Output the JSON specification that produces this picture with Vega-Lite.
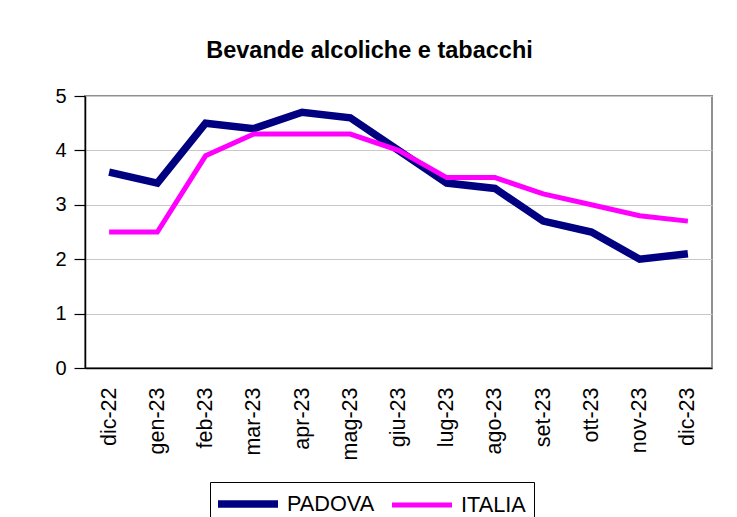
{
  "$schema": "https://vega.github.io/schema/vega-lite/v6.json",
  "width": 627,
  "height": 272,
  "autosize": {"type": "none"},
  "padding": {"left": 85, "top": 96, "right": 25, "bottom": 149},
  "background": "white",
  "title": {
    "text": "Bevande alcoliche e tabacchi",
    "font": "Liberation Sans",
    "fontSize": 23.5,
    "fontWeight": "bold",
    "color": "black",
    "anchor": "middle",
    "dx": -29,
    "offset": 24
  },
  "data": {
    "values": [
      {"mese": "dic-22", "serie": "PADOVA", "valore": 3.6},
      {"mese": "gen-23", "serie": "PADOVA", "valore": 3.4},
      {"mese": "feb-23", "serie": "PADOVA", "valore": 4.5},
      {"mese": "mar-23", "serie": "PADOVA", "valore": 4.4},
      {"mese": "apr-23", "serie": "PADOVA", "valore": 4.7},
      {"mese": "mag-23", "serie": "PADOVA", "valore": 4.6},
      {"mese": "giu-23", "serie": "PADOVA", "valore": 4.0},
      {"mese": "lug-23", "serie": "PADOVA", "valore": 3.4},
      {"mese": "ago-23", "serie": "PADOVA", "valore": 3.3},
      {"mese": "set-23", "serie": "PADOVA", "valore": 2.7},
      {"mese": "ott-23", "serie": "PADOVA", "valore": 2.5},
      {"mese": "nov-23", "serie": "PADOVA", "valore": 2.0},
      {"mese": "dic-23", "serie": "PADOVA", "valore": 2.1},
      {"mese": "dic-22", "serie": "ITALIA", "valore": 2.5},
      {"mese": "gen-23", "serie": "ITALIA", "valore": 2.5},
      {"mese": "feb-23", "serie": "ITALIA", "valore": 3.9},
      {"mese": "mar-23", "serie": "ITALIA", "valore": 4.3},
      {"mese": "apr-23", "serie": "ITALIA", "valore": 4.3},
      {"mese": "mag-23", "serie": "ITALIA", "valore": 4.3},
      {"mese": "giu-23", "serie": "ITALIA", "valore": 4.0},
      {"mese": "lug-23", "serie": "ITALIA", "valore": 3.5},
      {"mese": "ago-23", "serie": "ITALIA", "valore": 3.5},
      {"mese": "set-23", "serie": "ITALIA", "valore": 3.2},
      {"mese": "ott-23", "serie": "ITALIA", "valore": 3.0},
      {"mese": "nov-23", "serie": "ITALIA", "valore": 2.8},
      {"mese": "dic-23", "serie": "ITALIA", "valore": 2.7}
    ]
  },
  "mark": {"type": "line", "strokeJoin": "miter", "strokeCap": "butt"},
  "encoding": {
    "x": {
      "field": "mese",
      "type": "ordinal",
      "sort": null,
      "scale": {"type": "point", "padding": 0.5},
      "axis": {
        "title": null,
        "labelAngle": -90,
        "labelAlign": "right",
        "labelBaseline": "middle",
        "labelFont": "Liberation Sans",
        "labelFontSize": 21.5,
        "labelColor": "black",
        "labelPadding": 19,
        "ticks": false,
        "domainColor": "black",
        "domainWidth": 1.5,
        "grid": false
      }
    },
    "y": {
      "field": "valore",
      "type": "quantitative",
      "scale": {"domain": [0, 5], "nice": false},
      "axis": {
        "title": null,
        "values": [0, 1, 2, 3, 4, 5],
        "labelFont": "Liberation Sans",
        "labelFontSize": 20,
        "labelColor": "black",
        "labelPadding": 8,
        "tickSize": 11,
        "tickColor": "black",
        "tickWidth": 1.2,
        "domainColor": "black",
        "domainWidth": 1.5,
        "grid": true,
        "gridColor": "#c8c8c8",
        "gridWidth": 1.2
      }
    },
    "color": {
      "field": "serie",
      "type": "nominal",
      "scale": {"domain": ["PADOVA", "ITALIA"], "range": ["#000080", "#FF00FF"]},
      "legend": {
        "title": null,
        "orient": "none",
        "legendX": 125,
        "legendY": 386,
        "direction": "horizontal",
        "columns": 2,
        "strokeColor": "black",
        "padding": 8,
        "labelFont": "Liberation Sans",
        "labelFontSize": 21.7,
        "labelColor": "black",
        "labelOffset": 25,
        "columnPadding": 7,
        "symbolType": "M-3,0H3",
        "symbolSize": 400,
        "symbolOffset": 16,
        "labelLimit": 200
      }
    },
    "strokeWidth": {
      "field": "serie",
      "type": "nominal",
      "scale": {"domain": ["PADOVA", "ITALIA"], "range": [7.5, 5]},
      "legend": null
    }
  },
  "config": {
    "view": {"stroke": "#909090", "strokeWidth": 2}
  }
}
